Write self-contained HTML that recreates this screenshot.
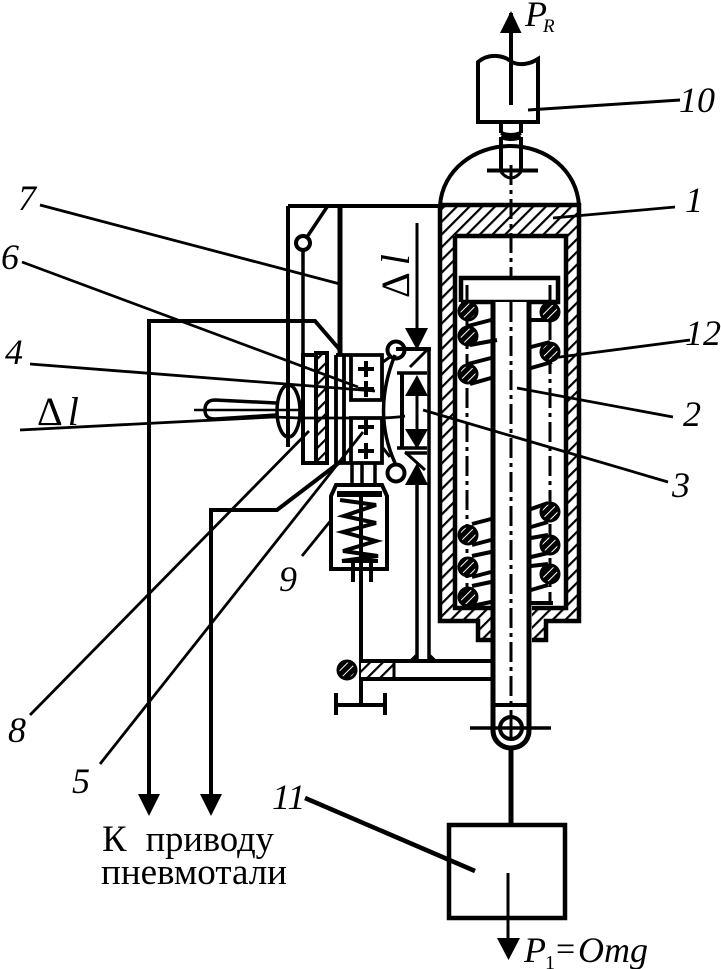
<!DOCTYPE html>
<html><head><meta charset="utf-8"><style>
html,body{margin:0;padding:0;background:#fff}
svg{display:block}
text{font-family:"Liberation Serif",serif;fill:#000}
.i{font-style:italic;font-size:36px}
</style></head><body>
<svg width="721" height="969" viewBox="0 0 721 969" xmlns="http://www.w3.org/2000/svg">
<defs>
<pattern id="h" width="9" height="9" patternUnits="userSpaceOnUse" patternTransform="rotate(45)"><rect width="9" height="9" fill="#fff"/><rect x="0" y="0" width="2.2" height="9" fill="#000"/></pattern>
<pattern id="b" width="6" height="6" patternUnits="userSpaceOnUse" patternTransform="rotate(45)"><rect width="6" height="6" fill="#000"/><rect x="0" y="0" width="1" height="6" fill="#fff"/></pattern>
</defs>
<g fill="none" stroke="#000" stroke-width="4">
<!-- housing -->
<path fill="url(#h)" fill-rule="evenodd" stroke="none" d="M440 206H578V622H546V640H532V608H497V640H478V622H440ZM455 236V608H565V236Z"/>
<path stroke-width="4.500" d="M440 205H579V621H546V640H532M440 205V621H478V640H497M455 236H566V608H532M455 236V608H493"/>
<path d="M440 206C442 170 475 146 510 146C546 146 577 170 579 206"/>
<!-- top -->
<path d="M478 122V62C490 52 505 56 512 62C520 66 530 64 538 59V122Z" stroke-width="4"/>
<path d="M501 124V133M521 124V133M501 133Q511 137 521 133M501 137Q511 141 521 137M501 137V169M521 137V169"/>
<path d="M487 170.500H538" stroke-width="4"/>
<path d="M501 172Q511 184 521 172" stroke-width="3"/>
<path d="M511 13V105" stroke-width="4"/>
<path d="M511 165V740" stroke-width="3" stroke-dasharray="20 5 4 5"/>
<!-- piston -->
<path stroke-width="4.500" fill="#fff" d="M461 302V278H558V302H461"/>
<path d="M493 302V730C493 742 503 748 511 748C520 748 529 742 529 730V302" stroke-width="5" fill="#fff"/>
<path d="M511 302V740" stroke-width="3" stroke-dasharray="20 5 4 5"/>
<path d="M467 285V302M550 285V302" stroke-width="3"/>
<path d="M493 705H529" stroke-width="4"/>
<circle cx="511" cy="728" r="11" fill="#fff" stroke-width="4"/>
<path d="M470 728H551" stroke-width="3.500"/><path d="M511 716V740" stroke-width="3"/>
<path d="M467 320V600M550 320V604" stroke-width="3" stroke-dasharray="20 5 4 5"/>
<!-- coils -->
<g stroke-width="4">
<path d="M468 326L491 320M470 345L497 340M468 364L491 358M470 384L491 378"/>
<path d="M531 320H548M531 347L550 342M531 368L552 362"/>
<path d="M472 524L491 519M472 545L491 540M472 556L491 552M472 577L491 572M472 586L491 582M472 606L491 602"/>
<path d="M531 509L548 503M531 527L548 522M531 538L548 535M531 557L548 553M531 566L548 564M531 590L548 585"/>
<path d="M531 603H553"/>
</g>
<g fill="url(#b)" stroke="#000" stroke-width="3">
<circle cx="468" cy="311" r="9"/><circle cx="468" cy="336" r="9"/><circle cx="468" cy="374" r="9"/>
<circle cx="550" cy="312" r="9"/><circle cx="550" cy="352" r="9"/>
<circle cx="468" cy="535" r="9"/><circle cx="468" cy="567" r="9"/><circle cx="468" cy="597" r="9"/>
<circle cx="550" cy="512" r="9"/><circle cx="550" cy="545" r="9"/><circle cx="550" cy="574" r="9"/>
<circle cx="347" cy="670" r="9"/>
</g>
<!-- frame -->
<path d="M288 206H440" stroke-width="4"/>
<path d="M288 206V447" stroke-width="4"/>
<path d="M340 206V354" stroke-width="5"/>
<circle cx="303" cy="243" r="7" stroke-width="4"/>
<path d="M307 237L327 207" stroke-width="3.500"/>
<path d="M303 250V354" stroke-width="3.500"/>
<!-- plate -->
<rect x="316" y="353" width="11" height="110" fill="url(#h)" stroke="none"/>
<path d="M303 355H316V353H327V463H303ZM316 353V463" stroke-width="4"/>
<!-- valve blocks -->
<path d="M336 355H382V400H351V355M336 355V463H382V418H351V463M344 355V463" stroke-width="3.800"/>
<path d="M358 369H374M366 361V377M358 389H374M366 381V397M358 427H374M366 419V435M358 451H374M366 443V459" stroke-width="4"/>
<!-- stems & spring box -->
<path d="M352 463V484M362 463V484M375 463V484" stroke-width="3.500"/>
<path d="M331 569V496L336 485H382L387 496V569Z" stroke-width="4"/>
<path d="M337 494H382" stroke-width="6"/>
<path d="M340 500L376 505L344 516L376 523L343 532L376 541L343 551L378 556L342 561H378" stroke-width="4"/>
<path d="M361 494V705" stroke-width="4"/>
<path d="M353 560V582M371 560V582" stroke-width="4"/>
<path d="M336 705H385" stroke-width="4"/><path d="M336 693V715M385 693V715" stroke-width="4"/>
<!-- arm -->
<path d="M361 661H491M361 679H491" stroke-width="4"/>
<path d="M361 663H394V677H361Z" fill="url(#h)" stroke="none"/>
<path d="M394 661V679" stroke-width="3"/>
<path d="M417 484V661M429 350V661M417 655L411 661M429 655L435 661" stroke-width="3.500"/>
<!-- Δl mech -->
<path d="M417 223V330" stroke-width="3"/>
<path d="M396 349H431" stroke-width="4"/>
<path d="M402 373V448" stroke-width="4"/>
<path d="M397 373H427M397 448H427M405 453H427" stroke-width="3.500"/>
<path d="M417 380V448" stroke-width="3"/>
<path d="M427 350L410 367M405 452L425 470" stroke-width="3"/>
<circle cx="396" cy="350" r="8.500" stroke-width="4"/>
<circle cx="396" cy="473" r="8.500" stroke-width="4"/>
<path d="M395 355Q372 412 395 463" stroke-width="3.500"/>
<path d="M383 362L390 357M383 448L390 457" stroke-width="3"/>
<!-- knob -->
<ellipse cx="288.500" cy="411" rx="11.500" ry="26" stroke-width="3.500"/>
<path d="M194 410H300" stroke-width="2.500"/>
<path d="M276 403L215 400C207 400 205 405 205 410C205 416 208 419 215 419L276 415" stroke-width="3.500"/>
<!-- leaders -->
<g stroke-width="2.800">
<path d="M40 205L340 284"/>
<path d="M22 262L358 387"/>
<path d="M30 364L375 391"/>
<path d="M20 430L273 417L300 418H372Q395 418 405 416"/>
<path d="M30 715L309 431"/>
<path d="M100 764L363 432"/>
<path d="M423 410L668 482"/>
<path d="M517 388L673 417"/>
<path d="M552 358L690 340"/>
<path d="M553 218L675 207"/>
<path d="M528 110L680 100" stroke-width="3"/>
<path d="M302 556L332 519"/>
</g>
<path d="M305 798L475 871" stroke-width="4.500"/>
<!-- signal lines -->
<path d="M149 795V321H315L340 350" stroke-width="4"/>
<path d="M211 795V510H277L340 462" stroke-width="4"/>
<!-- weight -->
<path d="M511 748V824" stroke-width="5"/>
<rect x="449" y="825" width="116" height="93" stroke-width="4.500"/>
<path d="M508 873V940" stroke-width="3"/>
</g>
<g fill="#000" stroke="none">
<path d="M500 33H521.500L511 11Z"/>
<path d="M405 328H428L417 350Z"/>
<path d="M405 396H428L417 375Z"/>
<path d="M405 429H428L417 449Z"/>
<path d="M405 485H428L417 463Z"/>
<path d="M138 794H160L149 816Z"/>
<path d="M200 794H222L211 816Z"/>
<path d="M497 938H520L508.500 960Z"/>
</g>
<!-- labels -->
<text class="i" x="525" y="26">P</text>
<text x="543" y="32" font-size="19" font-style="italic">R</text>
<text class="i" x="679" y="112">10</text>
<text class="i" x="685" y="212">1</text>
<text class="i" x="685" y="345">12</text>
<text class="i" x="683" y="426">2</text>
<text class="i" x="672" y="497">3</text>
<text class="i" x="18" y="210">7</text>
<text class="i" x="1" y="269">6</text>
<text class="i" x="5" y="364">4</text>
<text x="37" y="425" font-size="40">Δ<tspan dx="5" font-style="italic">l</tspan></text>
<text class="i" x="8" y="742">8</text>
<text class="i" x="72" y="793">5</text>
<text class="i" x="279" y="591">9</text>
<text class="i" x="272" y="809">11</text>
<text font-size="40" transform="translate(409 298) rotate(-90)">Δ<tspan dx="7" font-style="italic">l</tspan></text>
<text x="188" y="851" font-size="36.500" text-anchor="middle" word-spacing="10">К приводу</text>
<text x="194" y="884" font-size="37" text-anchor="middle">пневмотали</text>
<text class="i" x="524" y="962">P</text>
<text x="545" y="969" font-size="20">1</text>
<text x="556" y="960" font-size="34">=</text>
<text class="i" x="578" y="962">Omg</text>
</svg>
</body></html>
